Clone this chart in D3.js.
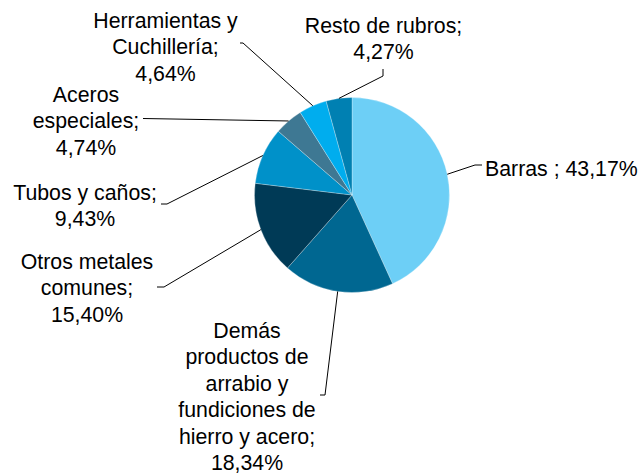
<!DOCTYPE html>
<html>
<head>
<meta charset="utf-8">
<script src="https://cdn.jsdelivr.net/npm/d3@7/dist/d3.min.js"></script>
<style>
  body { margin: 0; background: #fff; }
  svg text { font-family: "Liberation Sans", Arial, sans-serif; font-size: 21.3px; fill: #000; }
</style>
</head>
<body>
<div id="div_id_main"></div>
<script>

// data ----------------------------------------------
const vCategories = ["Barras", "Demás productos de arrabio y fundiciones de hierro y acero",
                     "Otros metales comunes", "Tubos y caños", "Aceros especiales",
                     "Herramientas y Cuchillería", "Resto de rubros"];
const vValues = [43.17, 18.34, 15.40, 9.43, 4.74, 4.64, 4.27];
const vLabelLines = [
	["Barras ; 43,17%"],
	["Demás", "productos de", "arrabio y", "fundiciones de", "hierro y acero;", "18,34%"],
	["Otros metales", "comunes;", "15,40%"],
	["Tubos y caños;", "9,43%"],
	["Aceros", "especiales;", "4,74%"],
	["Herramientas y", "Cuchillería;", "4,64%"],
	["Resto de rubros;", "4,27%"]
];
const vColors = ["#6DCFF6", "#006791", "#003A56", "#0091C9", "#3E7893", "#00ADEE", "#0080B2"];

// layout --------------------------------------------
const WIDTH = 638, HEIGHT = 475;
const CX = 352, CY = 195, RADIUS = 97.5;
const LINE_H = 26.4;

// label placement: text x, first baseline, anchor, leader elbow, leader end
const vLabelPos = [
	{ x: 485, y: 175.5, anchor: "start", elbow: [475, 165], end: [482, 165] },
	{ x: 247, y: 338, anchor: "middle", elbow: [325, 395], end: [320, 395] },
	{ x: 87, y: 269, anchor: "middle", elbow: [164, 287], end: [157, 287] },
	{ x: 85, y: 200, anchor: "middle", elbow: [167, 204], end: [161, 204] },
	{ x: 86, y: 102, anchor: "middle", elbow: [143, 118.5], end: [143, 118.5] },
	{ x: 165.5, y: 28, anchor: "middle", elbow: [243, 43], end: [240, 43] },
	{ x: 383.5, y: 33, anchor: "middle", elbow: [383, 76], end: [383, 69] }
];

let svgMain = d3.select("#div_id_main")
				.append("svg")
					.attr("width", WIDTH)
					.attr("height", HEIGHT);

let pie = d3.pie().sort(null).value(d => d);
let arcs = pie(vValues);

let arc = d3.arc().innerRadius(0).outerRadius(RADIUS);
let arcOuter = d3.arc().innerRadius(RADIUS).outerRadius(RADIUS);

let gPie = svgMain.append("g")
				.attr("transform", "translate(" + CX + "," + CY + ")");

gPie.selectAll("path.slice")
	.data(arcs)
	.enter()
		.append("path")
			.attr("class", "slice")
			.attr("d", arc)
			.attr("fill", (d, i) => vColors[i])
			.attr("stroke", "rgba(255,255,255,0.45)")
			.attr("stroke-width", 0.6);

// leader lines --------------------------------------
let line = d3.line();

svgMain.selectAll("path.leader")
	.data(arcs)
	.enter()
		.append("path")
			.attr("class", "leader")
			.attr("fill", "none")
			.attr("stroke", "#000")
			.attr("stroke-width", 1)
			.attr("d", function(d, i) {
				let a = (d.startAngle + d.endAngle) / 2;
				let p0 = [CX + RADIUS * Math.sin(a), CY - RADIUS * Math.cos(a)];
				return line([p0, vLabelPos[i].elbow, vLabelPos[i].end]);
			});

// labels --------------------------------------------
vLabelLines.forEach(function(lines, i) {
	let pos = vLabelPos[i];
	let t = svgMain.append("text")
				.attr("text-anchor", pos.anchor);
	lines.forEach(function(s, k) {
		t.append("tspan")
			.attr("x", pos.x)
			.attr("y", pos.y + k * LINE_H)
			.text(s);
	});
});

</script>
</body>
</html>
